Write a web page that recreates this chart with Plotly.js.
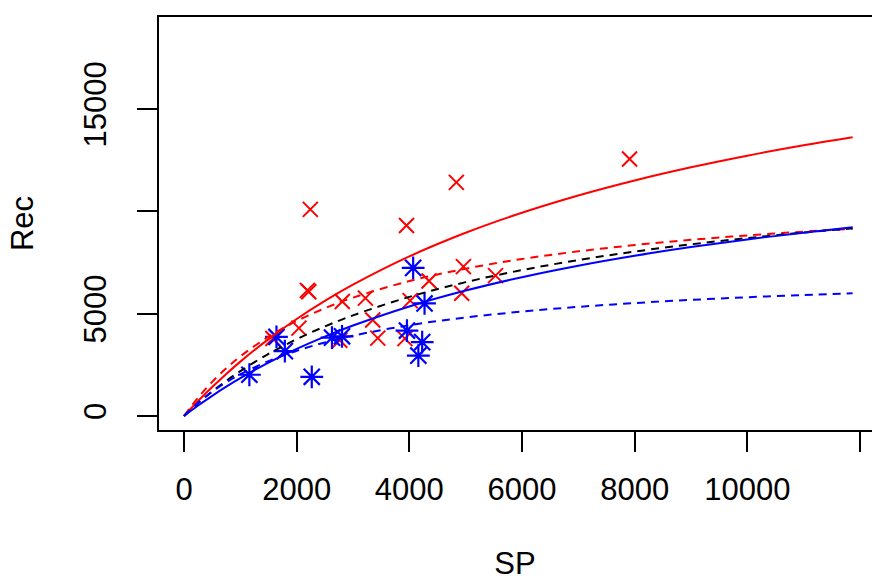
<!DOCTYPE html>
<html>
<head>
<meta charset="utf-8">
<script src="https://cdn.plot.ly/plotly-3.0.1.min.js"></script>
<style>
html, body { margin: 0; padding: 0; overflow: hidden; background: #fff; }
#chart { width: 872px; height: 581px; }
</style>
</head>
<body>
<div id="chart"></div>
<script>
// Observed points (SP, Rec)
const redSP  = [2242, 4835, 3950, 2190, 2215, 2810, 3220, 4960, 4350, 4015, 4930, 3350, 2040, 3440, 3922, 1578, 2765, 7910, 5530];
const redRec = [10100, 11420, 9314, 6140, 6070, 5595, 5760, 7300, 6600, 5640, 6000, 4690, 4295, 3805, 3780, 3790, 3700, 12560, 6860];

const blueSP  = [4068, 4270, 3958, 4228, 4160, 2627, 2805, 1641, 1790, 1160, 2268];
const blueRec = [7240, 5500, 4175, 3610, 2950, 3830, 3895, 3865, 3170, 2015, 1915];

// Fitted curves
const curveSP = [0, 250, 500, 750, 1000, 1500, 2000, 2500, 3000, 4000, 5000, 6000, 7000, 8000, 9000, 10000, 11000, 11870];
const redSolid   = [0, 731, 1414, 2055, 2658, 3759, 4742, 5624, 6420, 7800, 8955, 9936, 10780, 11513, 12156, 12724, 13230, 13627];
const redDashed  = [0, 901, 1670, 2334, 2914, 3875, 4641, 5265, 5783, 6595, 7202, 7673, 8048, 8355, 8610, 8826, 9011, 9151];
const blackDashed= [0, 628, 1199, 1719, 2195, 3035, 3754, 4376, 4919, 5822, 6543, 7132, 7622, 8036, 8390, 8697, 8966, 9173];
const blueSolid  = [0, 511, 987, 1432, 1848, 2607, 3280, 3882, 4422, 5355, 6130, 6785, 7345, 7831, 8255, 8629, 8961, 9221];
const blueDashed = [0, 645, 1186, 1645, 2040, 2685, 3189, 3593, 3926, 4438, 4816, 5105, 5334, 5520, 5674, 5803, 5913, 5997];

const xTicks = [0, 2000, 4000, 6000, 8000, 10000, 12000];
const xTickText = ['0', '2000', '4000', '6000', '8000', '10000', ''];
const yTicks = [0, 5000, 10000, 15000];
const yTickText = ['0', '5000', '', '15000'];

const RED = '#FF0000', BLUE = '#0000FF', BLACK = '#000000';
const FONT = 'Liberation Sans, Arial, Helvetica, sans-serif';

function line(y, color, dash) {
  return { x: curveSP, y: y, type: 'scatter', mode: 'lines', line: { color: color, width: 2, dash: dash, shape: 'spline' }, hoverinfo: 'x+y', showlegend: false };
}

const traces = [
  { x: redSP, y: redRec, type: 'scatter', mode: 'markers',
    marker: { symbol: 'x-thin-open', size: 15, color: RED, line: { color: RED, width: 2 } }, showlegend: false },
  { x: blueSP, y: blueRec, type: 'scatter', mode: 'markers',
    marker: { symbol: 'asterisk-open', size: 19, color: BLUE, line: { color: BLUE, width: 2.2 } }, showlegend: false },
  line(redSolid, RED, 'solid'),
  line(redDashed, RED, '8px,6px'),
  line(blackDashed, BLACK, '8px,6px'),
  line(blueSolid, BLUE, 'solid'),
  line(blueDashed, BLUE, '8px,6px')
];

const layout = {
  width: 872, height: 581,
  margin: { l: 158, r: 0, t: 16, b: 150 },
  paper_bgcolor: '#fff', plot_bgcolor: '#fff',
  font: { family: FONT, size: 31, color: BLACK },
  showlegend: false,
  xaxis: {
    range: [-462, 12214], autorange: false,
    tickmode: 'array', tickvals: xTicks, ticktext: xTickText,
    ticks: 'outside', ticklen: 20, tickwidth: 2, tickcolor: BLACK,
    showgrid: false, zeroline: false, showline: false,
    ticklabelstandoff: 11,
    tickfont: { family: FONT, size: 31, color: BLACK },
    title: { text: 'SP', font: { family: FONT, size: 31, color: BLACK }, standoff: 51 }
  },
  yaxis: {
    range: [-733, 19550], autorange: false,
    tickmode: 'array', tickvals: yTicks, ticktext: yTickText,
    ticks: 'outside', ticklen: 20, tickwidth: 2, tickcolor: BLACK,
    tickangle: -90,
    showgrid: false, zeroline: false, showline: false,
    ticklabelstandoff: 19,
    tickfont: { family: FONT, size: 31, color: BLACK },
    title: { text: 'Rec', font: { family: FONT, size: 31, color: BLACK }, standoff: 34 }
  },
  shapes: [
    { type: 'rect', xref: 'paper', yref: 'paper', x0: 0, x1: 1.1, y0: 0, y1: 1,
      line: { color: BLACK, width: 2 }, fillcolor: 'rgba(0,0,0,0)', layer: 'above' }
  ]
};

Plotly.newPlot('chart', traces, layout, { displayModeBar: false, staticPlot: true });
</script>
</body>
</html>
